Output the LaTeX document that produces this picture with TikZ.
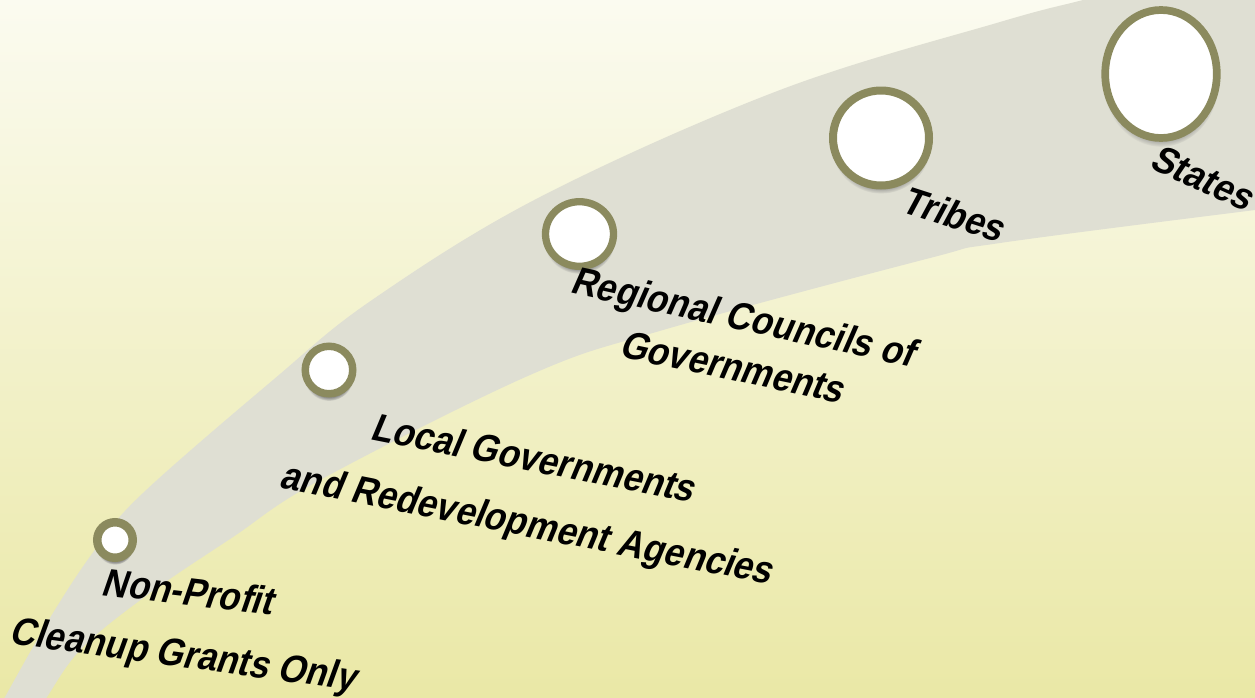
\documentclass[tikz,border=0pt]{standalone}
\usepackage{fontspec}
\setmainfont{Liberation Sans}
\newfontfamily\lblfont{Liberation Sans}[FakeSlant=0.27]
\usetikzlibrary{shapes.geometric,shadows,fadings}
\definecolor{bgtop}{RGB}{251,251,240}
\definecolor{bgbot}{RGB}{234,232,166}
\definecolor{bandgrey}{RGB}{223,223,211}
\definecolor{ringolive}{RGB}{139,138,94}
\begin{document}
\begin{tikzpicture}[x=1pt,y=-1pt,
  ring/.style={ellipse, draw=ringolive, fill=white, inner sep=0pt,
    circular drop shadow={shadow xshift=0pt, shadow yshift=-6pt, shadow scale=1.04, opacity=0.85}},
  lbl/.style={font=\fontsize{35}{40}\selectfont\lblfont\bfseries, inner sep=0pt, anchor=base, text=black, yscale=1.12}]
\useasboundingbox (0,0) rectangle (1255,697);
\shade[top color=bgtop, bottom color=bgbot] (0,0) rectangle (1255,697);
\begin{scope}
\clip (0,0) rectangle (1255,697);
\fill[bandgrey] plot[smooth, tension=0.6] coordinates {(-12,730) (5,697) (53,613) (97,547) (143,493) (273,380) (372,300) (540,197) (780,90) (1000,22) (1083,0) (1140,-15)}
  -- (1275,-15)
  -- plot[smooth, tension=0.6] coordinates {(1275,208) (1255,210) (1000,243) (930,258) (663,330) (530,375) (320,480) (233,537) (150,593) (83,647) (47,697) (28,730)}
  -- cycle;
\end{scope}
% rings
\node[ring, line width=8.5pt, minimum width=35.5pt, minimum height=35.5pt] (np) at (115,540) {};
\node[ring, line width=7.5pt, minimum width=47.5pt, minimum height=47.5pt] (lg) at (329,370) {};
\node[ring, line width=7.3pt, minimum width=68pt, minimum height=64.6pt] (rc) at (579.5,234) {};
\node[ring, line width=8pt, minimum width=96pt, minimum height=95pt] (tr) at (881,138) {};
\node[ring, line width=7.7pt, minimum width=111.6pt, minimum height=128pt] (st) at (1161,74) {};
% labels
\node[lbl, rotate=-6] (npa) at (186,605) {Non-Profit};
\node[lbl, rotate=-7] (npb) at (181,667) {Cleanup Grants Only};
\node[lbl, rotate=-10] (lga) at (530,471) {Local Governments};
\node[lbl, rotate=-10] (lgb) at (524,536) {and Redevelopment Agencies};
\node[lbl, rotate=-11] (rca) at (740,330) {Regional Councils of};
\node[lbl, rotate=-10.5] (rcb) at (729,380) {Governments};
\node[lbl, rotate=-16] (trl) at (949,227) {Tribes};
\node[lbl, rotate=-22] (stl) at (1197,190) {States};
\end{tikzpicture}
\end{document}
